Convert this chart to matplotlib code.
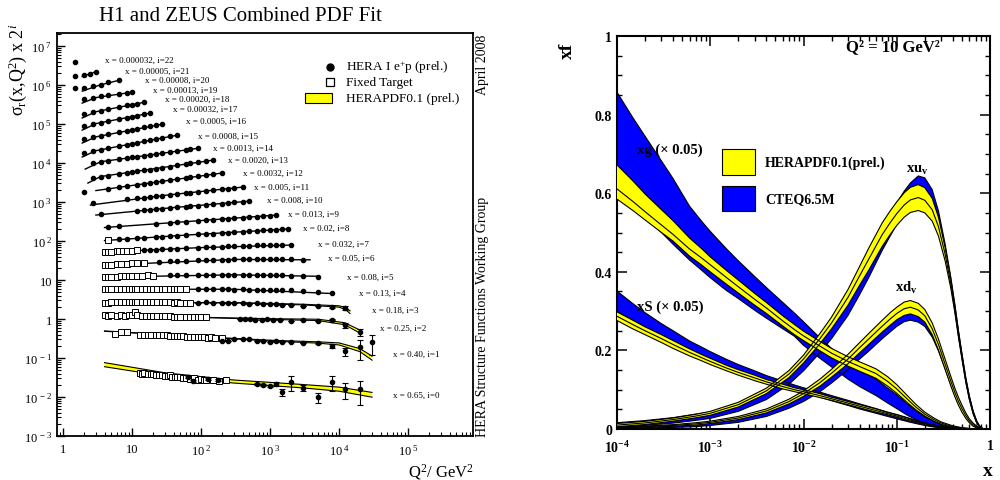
import numpy as np
import matplotlib
matplotlib.use("Agg")
import matplotlib.pyplot as plt
import matplotlib.patches as mpatches
from matplotlib.ticker import LogLocator, MultipleLocator, NullFormatter, FuncFormatter, FixedLocator

plt.rcParams["font.family"] = ["Liberation Serif", "DejaVu Serif"]
plt.rcParams["mathtext.fontset"] = "custom"
plt.rcParams["mathtext.rm"] = "Liberation Serif"
plt.rcParams["mathtext.it"] = "Liberation Serif:italic"
plt.rcParams["mathtext.bf"] = "Liberation Serif:bold"

YELLOW = "#ffff00"
BLUE = "#0000ff"

# ---------------- left panel: reduced cross sections x 2^i ----------------
BIN_X = {22: "0.000032", 21: "0.00005", 20: "0.00008", 19: "0.00013", 18: "0.00020",
         17: "0.00032", 16: "0.0005", 15: "0.0008", 14: "0.0013", 13: "0.0020",
         12: "0.0032", 11: "0.005", 10: "0.008", 9: "0.013", 8: "0.02", 7: "0.032",
         6: "0.05", 5: "0.08", 4: "0.13", 3: "0.18", 2: "0.25", 1: "0.40", 0: "0.65"}

HERA_Q2 = {
    22: [1.5],
    21: [1.5, 2.0, 2.5, 3.0],
    20: [1.5, 2.0, 2.7, 3.5, 4.5, 6.5],
    19: [2.0, 2.7, 3.5, 4.5, 6.5, 8.5, 10],
    18: [2.0, 2.7, 3.5, 4.5, 6.5, 8.5, 10, 12, 15],
    17: [2.0, 2.7, 3.5, 4.5, 6.5, 8.5, 10, 12, 15, 18],
    16: [2.0, 2.7, 3.5, 4.5, 6.5, 8.5, 10, 12, 15, 18, 22, 27],
    15: [2.0, 2.7, 3.5, 4.5, 6.5, 8.5, 10, 12, 15, 18, 22, 27, 35, 45],
    14: [2.7, 3.5, 4.5, 6.5, 8.5, 10, 12, 15, 18, 22, 27, 35, 45, 60, 70, 90],
    13: [2.7, 3.5, 4.5, 6.5, 8.5, 10, 12, 15, 18, 22, 27, 35, 45, 60, 70, 90, 120, 150],
    12: [2.0, 4.5, 6.5, 8.5, 12, 15, 18, 22, 27, 35, 45, 60, 70, 90, 120, 150, 200],
    11: [2.7, 8.5, 12, 15, 18, 22, 27, 35, 45, 60, 70, 90, 120, 150, 200, 250, 300, 400],
    10: [3.5, 12, 15, 18, 22, 27, 35, 45, 60, 70, 90, 120, 150, 200, 250, 300, 400, 500],
    9: [4.5, 6.5, 22, 35, 45, 60, 90, 120, 150, 200, 250, 300, 400, 500, 650, 800, 1000, 1200],
    8: [6.5, 8.5, 12, 15, 22, 27, 35, 45, 60, 90, 120, 150, 200, 250, 300, 400, 500, 650,
        800, 1000, 1200, 1500, 1800],
    7: [15, 18, 22, 27, 35, 45, 60, 90, 120, 150, 200, 250, 300, 400, 500, 650, 800, 1000,
        1200, 1500, 2000],
    6: [25, 35, 45, 60, 90, 120, 150, 200, 250, 300, 400, 500, 650, 800, 1000, 1200, 1500,
        2000, 3000],
    5: [35, 45, 60, 90, 120, 150, 200, 250, 300, 400, 500, 650, 800, 1000, 1200, 1500, 2000,
        3000, 5000],
    4: [90, 120, 150, 200, 250, 300, 400, 500, 650, 800, 1000, 1200, 1500, 2000, 3000, 5000, 8000],
    3: [90, 120, 150, 200, 250, 300, 400, 500, 650, 800, 1000, 1200, 1500, 2000, 3000, 5000,
        8000, 12000],
    2: [370, 430, 510, 600, 770, 900, 1100, 1400, 2000, 3000, 5000, 8000, 12000, 20000],
    1: [200, 250, 300, 400, 500, 650, 800, 1000, 1200, 1500, 2000, 3000, 5000, 8000, 12000,
        20000, 30000],
    0: [65, 76, 126, 177, 650, 800, 1000, 1200, 1500, 2000, 3000, 5000, 8000, 12000, 20000],
}
HERA_VAL = {
    22: [3.9e6],
    21: [1.70e6, 1.80e6, 1.97e6, 2.15e6],
    20: [8.4e5, 8.4e5, 9.4e5, 1.03e6, 1.19e6, 1.34e6],
    19: [4.38e5, 4.78e5, 5.22e5, 5.54e5, 6.06e5, 6.43e5, 6.62e5],
    18: [1.80e5, 2.01e5, 2.19e5, 2.40e5, 2.73e5, 3.0e5, 3.16e5, 3.37e5, 3.65e5],
    17: [8.9e4, 9.9e4, 1.08e5, 1.18e5, 1.34e5, 1.47e5, 1.55e5, 1.65e5, 1.78e5, 1.90e5],
    16: [4.12e4, 4.56e4, 4.98e4, 5.44e4, 6.17e4, 6.74e4, 7.14e4, 7.57e4, 8.18e4, 8.73e4,
         9.31e4, 1.0e5],
    15: [1.84e4, 2.03e4, 2.21e4, 2.41e4, 2.73e4, 2.99e4, 3.16e4, 3.36e4, 3.61e4, 3.85e4,
         4.11e4, 4.41e4, 4.81e4, 5.22e4],
    14: [1.0e4, 1.07e4, 1.14e4, 1.25e4, 1.34e4, 1.39e4, 1.46e4, 1.55e4, 1.62e4, 1.70e4,
         1.80e4, 1.92e4, 2.04e4, 2.19e4, 2.28e4, 2.42e4],
    13: [4120, 4430, 4720, 5190, 5570, 5850, 6120, 6500, 6810, 7180, 7570, 8130, 8670, 9370,
         9770, 1.04e4, 1.12e4, 1.19e4],
    12: [1800, 2210, 2410, 2570, 2790, 2940, 3090, 3240, 3400, 3620, 3840, 4120, 4300, 4560,
         4900, 5160, 5540],
    11: [943, 1170, 1250, 1300, 1350, 1400, 1460, 1530, 1600, 1690, 1740, 1830, 1930, 2010,
         2130, 2220, 2290, 2420],
    10: [495, 595, 616, 635, 654, 673, 702, 728, 762, 780, 809, 847, 879, 916, 948, 977,
         1020, 1060],
    9: [228, 240, 278, 293, 304, 314, 332, 344, 354, 367, 378, 386, 401, 412, 425, 438, 448, 459],
    8: [111, 115, 119, 122, 127, 130, 134, 137, 142, 148, 152, 156, 161, 165, 168, 173, 177,
        183, 187, 192, 195, 200, 203],
    7: [58.8, 59.5, 60.5, 61.6, 63, 64, 65.6, 67.6, 69.2, 70.5, 71.7, 73, 73.8, 75.1, 76,
        77.4, 78.3, 78.8, 79.2, 79.7, 78.8],
    6: [29.6, 30.2, 30.8, 31.3, 31.9, 32.4, 32.8, 33.2, 33.5, 33.8, 34.1, 34.4, 34.7, 35.0,
        35.2, 35.0, 35.3, 34.5, 33.0],
    5: [13.2, 13.3, 13.4, 13.5, 13.6, 13.6, 13.7, 13.6, 13.7, 13.7, 13.6, 13.6, 13.5, 13.5,
        13.4, 13.4, 13.0, 12.5, 11.8],
    4: [5.8, 5.8, 5.9, 5.8, 5.8, 5.7, 5.8, 5.7, 5.6, 5.6, 5.7, 5.5, 5.4, 5.4, 5.1, 4.9, 4.6],
    3: [2.65, 2.7, 2.6, 2.65, 2.6, 2.6, 2.55, 2.5, 2.55, 2.45, 2.45, 2.4, 2.35, 2.3, 2.2,
        2.15, 2.05, 1.9],
    2: [1.0, 1.0, 1.0, 0.97, 0.97, 1.0, 0.94, 0.94, 0.89, 0.97, 0.89, 0.97, 0.70, 0.46],
    1: [0.27, 0.28, 0.30, 0.31, 0.30, 0.28, 0.27, 0.26, 0.27, 0.26, 0.26, 0.245, 0.24, 0.205,
        0.15, 0.19, 0.26],
    0: [0.033, 0.026, 0.029, 0.027, 0.0216, 0.0204, 0.0192, 0.0216, 0.0134, 0.0243, 0.0171,
        0.0100, 0.0243, 0.0161, 0.0161],
}
HERA_ERR = {
    3: [0] * 16 + [0.08, 0.2],
    2: [0] * 11 + [0.04, 0.1, 0.1],
    1: [0] * 12 + [0.01, 0.02, 0.035, 0.1, 0.14],
    0: [0.002, 0.002, 0.002, 0.002, 0.0015, 0.0015, 0.0015, 0.002, 0.003, 0.01, 0.003, 0.003,
        0.01, 0.007, 0.01],
}

FT_Q2 = {
    8: [4.5],
    7: [4.0, 4.5, 5.0, 6.0, 6.5, 7.5, 8.5, 10, 12],
    6: [4.0, 4.5, 5.0, 6.0, 7.0, 8.5, 10, 12, 15],
    5: [4.0, 4.5, 5.0, 6.0, 7.0, 8.0, 9.0, 10, 12, 14, 17, 20],
    4: [4.0, 4.5, 5, 6, 7, 8, 9, 10, 11, 12, 14, 16, 18, 20, 23, 27, 30, 35, 40, 45, 50, 60],
    3: [4.0, 4.5, 5, 6, 7, 8, 9, 10, 11, 12, 14, 16, 18, 20, 23, 27, 30, 35, 40, 45, 50, 60, 70],
    2: [4.0, 4.5, 5, 6, 7, 8, 9, 10, 11, 12, 14, 16, 18, 20, 23, 27, 30, 35, 40, 45, 50, 60,
        70, 80, 90, 100, 120],
    1: [5.6, 7, 8.5, 13, 15, 17, 19, 22, 25, 28, 32, 36, 40, 45, 50, 55, 62, 70, 80, 90, 100,
        110, 125, 140, 160, 200],
    0: [13, 14, 15, 17, 19, 20, 22, 25, 27, 30, 33, 35, 38, 42, 45, 50, 55, 60, 70, 80, 90,
        100, 110, 120, 150, 180, 230],
}
FT_VAL = {
    8: [106],
    7: [52, 53, 52, 54, 55, 55, 56, 57, 58],
    6: [24.3, 24.3, 25.0, 25.7, 25.7, 26.5, 27.3, 27.3, 28.1],
    5: [12.0, 12.1, 12.0, 12.3, 12.5, 12.6, 12.4, 12.7, 12.8, 12.9, 13.1, 13.0],
    4: [5.8, 5.8, 5.9, 5.9, 5.9, 6.0, 5.9, 6.0, 6.0, 5.9, 6.0, 6.0, 5.9, 6.0, 5.9, 5.9, 5.9,
        5.9, 5.8, 5.9, 5.8, 5.8],
    3: [2.65, 2.6, 2.7, 2.7, 2.75, 2.7, 2.8, 2.75, 2.7, 2.8, 2.75, 2.8, 2.7, 2.75, 2.7, 2.75,
        2.7, 2.7, 2.65, 2.7, 2.65, 2.65, 2.6],
    2: [1.25, 1.22, 1.24, 1.2, 1.25, 1.22, 1.3, 1.28, 1.5, 1.25, 1.22, 1.22, 1.2, 1.22, 1.18,
        1.2, 1.17, 1.18, 1.15, 1.16, 1.14, 1.15, 1.12, 1.12, 1.1, 1.12, 1.1],
    1: [0.41, 0.46, 0.46, 0.40, 0.40, 0.40, 0.39, 0.39, 0.38, 0.38, 0.38, 0.37, 0.37, 0.36,
        0.36, 0.36, 0.35, 0.35, 0.35, 0.34, 0.34, 0.34, 0.33, 0.34, 0.33, 0.32],
    0: [0.042, 0.040, 0.041, 0.039, 0.038, 0.038, 0.037, 0.036, 0.037, 0.035, 0.034, 0.036,
        0.033, 0.033, 0.032, 0.033, 0.031, 0.030, 0.029, 0.030, 0.028, 0.029, 0.028, 0.027,
        0.027, 0.026, 0.028],
}

FIT_Q2 = {
    21: [1.9, 3.0], 20: [1.9, 3.4, 6.5], 19: [1.9, 3.0, 10.3], 18: [1.9, 3.0, 15.4],
    17: [1.9, 3.0, 19.5], 16: [1.9, 3.0, 28], 15: [1.9, 3.0, 46], 14: [2.1, 3.5, 95],
    13: [2.3, 3.5, 150], 12: [3.0, 20, 200], 11: [2.5, 30, 400], 10: [3.0, 40, 520],
    9: [4.0, 60, 1260], 8: [4.0, 60, 1800], 7: [4.0, 100, 2100], 6: [4.0, 300, 3800],
    5: [4.0, 300, 5000], 4: [4.0, 300, 8200],
    3: [4.0, 300, 3000, 10000, 12500, 14400],
    2: [4.0, 100, 1000, 5000, 12000, 20000],
    1: [4.0, 100, 1000, 5000, 10000, 20000, 30000],
    0: [4.0, 30, 300, 3000, 10000, 30000],
}
FIT_VAL = {
    21: [1.67e6, 2.2e6], 20: [7.0e5, 1.0e6, 1.33e6], 19: [3.45e5, 4.78e5, 6.62e5],
    18: [1.43e5, 2.08e5, 3.65e5], 17: [7.0e4, 1.03e5, 1.95e5], 16: [3.26e4, 4.7e4, 1.0e5],
    15: [1.43e4, 2.08e4, 5.22e4], 14: [7.0e3, 1.08e4, 2.42e4], 13: [3070, 4510, 1.19e4],
    12: [1970, 3160, 5540], 11: [838, 1490, 2420], 10: [464, 723, 1060], 9: [222, 314, 464],
    8: [103, 142, 203], 7: [52, 68, 79], 6: [24, 33.8, 33], 5: [11.9, 13.6, 12.5],
    4: [5.8, 5.8, 4.5],
    3: [2.65, 2.62, 2.35, 2.1, 1.85, 1.5],
    2: [1.25, 1.1, 1.0, 0.95, 0.76, 0.48],
    1: [0.49, 0.35, 0.28, 0.25, 0.23, 0.16, 0.10],
    0: [0.068, 0.038, 0.025, 0.019, 0.016, 0.0115],
}
FIT_BAND = {
    3: [0.01, 0.01, 0.02, 0.04, 0.06, 0.08],
    2: [0.01, 0.01, 0.02, 0.04, 0.06, 0.09],
    1: [0.01, 0.01, 0.02, 0.04, 0.06, 0.09, 0.12],
    0: [0.12, 0.10, 0.09, 0.10, 0.12, 0.14],
}

LABEL_Q2 = {22: 4.06, 21: 7.9, 20: 15.4, 19: 20.1, 18: 30, 17: 39, 16: 60.6, 15: 90.5,
            14: 149, 13: 246, 12: 406, 11: 586, 10: 905, 9: 1820, 8: 3000, 7: 4960,
            6: 6930, 5: 1.31e4, 4: 1.95e4, 3: 3.0e4, 2: 3.93e4, 1: 6.06e4, 0: 6.06e4}
LABEL_VAL = {22: 4.4e6, 21: 2.3e6, 20: 1.34e6, 19: 7.4e5, 18: 4.4e5, 17: 2.4e5, 16: 1.19e5,
             15: 4.9e4, 14: 2.5e4, 13: 1.23e4, 12: 5.5e3, 11: 2.4e3, 10: 1.12e3, 9: 492,
             8: 215, 7: 84, 6: 36.6, 5: 11.9, 4: 4.64, 3: 1.70, 2: 0.59, 1: 0.127, 0: 0.0113}

# ---------------- right panel: parton distributions at Q2 = 10 GeV2 ----------------
VAL_X = [1e-4, 2e-4, 4e-4, 7e-4, 1e-3, 2e-3, 4e-3, 7e-3, 1e-2, 1.5e-2, 2e-2, 3e-2, 4e-2,
         5e-2, 7e-2, 0.085, 0.1, 0.12, 0.14, 0.17, 0.2, 0.24, 0.28, 0.33, 0.38, 0.42, 0.46,
         0.5, 0.55, 0.6, 0.66, 0.72, 0.78, 0.85]
XUV_HERA_C = [0.010, 0.0155, 0.024, 0.033, 0.040, 0.062, 0.097, 0.140, 0.178, 0.230, 0.270,
              0.335, 0.390, 0.432, 0.495, 0.525, 0.548, 0.570, 0.583, 0.589, 0.582, 0.558,
              0.515, 0.445, 0.370, 0.305, 0.240, 0.185, 0.125, 0.080, 0.042, 0.018, 0.005, 0.0]
XUV_HERA_HI = [0.014, 0.0195, 0.028, 0.0375, 0.045, 0.068, 0.104, 0.149, 0.188, 0.243, 0.285,
               0.355, 0.414, 0.460, 0.525, 0.555, 0.578, 0.601, 0.615, 0.622, 0.614, 0.587,
               0.539, 0.462, 0.382, 0.314, 0.247, 0.191, 0.130, 0.084, 0.045, 0.020, 0.006, 0.0]
XUV_HERA_LO = [0.006, 0.0115, 0.020, 0.0285, 0.035, 0.056, 0.090, 0.131, 0.168, 0.217, 0.255,
               0.315, 0.366, 0.404, 0.465, 0.495, 0.518, 0.539, 0.551, 0.556, 0.550, 0.529,
               0.491, 0.428, 0.358, 0.296, 0.233, 0.179, 0.120, 0.076, 0.039, 0.016, 0.004, 0.0]
XUV_CTEQ_HI = [0.016, 0.0215, 0.029, 0.038, 0.043, 0.065, 0.099, 0.142, 0.178, 0.230, 0.270,
               0.337, 0.394, 0.439, 0.511, 0.547, 0.575, 0.605, 0.626, 0.644, 0.639, 0.609,
               0.555, 0.471, 0.386, 0.317, 0.249, 0.192, 0.130, 0.084, 0.045, 0.020, 0.006, 0.0]
XUV_CTEQ_LO = [0.004, 0.0095, 0.015, 0.022, 0.027, 0.045, 0.075, 0.114, 0.148, 0.194, 0.230,
               0.289, 0.342, 0.385, 0.455, 0.491, 0.521, 0.555, 0.580, 0.600, 0.597, 0.571,
               0.523, 0.447, 0.368, 0.301, 0.235, 0.180, 0.120, 0.076, 0.039, 0.016, 0.004, 0.0]

XDV_HERA_C = [0.004, 0.006, 0.009, 0.013, 0.017, 0.028, 0.046, 0.070, 0.090, 0.118, 0.142,
              0.178, 0.207, 0.229, 0.262, 0.280, 0.294, 0.306, 0.310, 0.303, 0.288, 0.255,
              0.215, 0.165, 0.122, 0.093, 0.070, 0.052, 0.034, 0.021, 0.011, 0.005, 0.0015, 0.0]
XDV_HERA_HI = [0.005, 0.0075, 0.011, 0.016, 0.020, 0.032, 0.051, 0.076, 0.097, 0.127, 0.152,
               0.190, 0.220, 0.243, 0.277, 0.296, 0.310, 0.323, 0.327, 0.320, 0.304, 0.270,
               0.229, 0.178, 0.134, 0.104, 0.080, 0.061, 0.041, 0.026, 0.015, 0.007, 0.0025, 0.0]
XDV_HERA_LO = [0.003, 0.0045, 0.007, 0.010, 0.014, 0.024, 0.041, 0.064, 0.083, 0.109, 0.132,
               0.166, 0.194, 0.215, 0.247, 0.264, 0.278, 0.289, 0.293, 0.286, 0.272, 0.240,
               0.201, 0.152, 0.110, 0.082, 0.060, 0.043, 0.027, 0.016, 0.007, 0.003, 0.0005, 0.0]
XDV_CTEQ_HI = [0.005, 0.007, 0.010, 0.014, 0.017, 0.027, 0.044, 0.067, 0.086, 0.113, 0.137,
               0.173, 0.202, 0.224, 0.256, 0.273, 0.287, 0.299, 0.303, 0.298, 0.285, 0.256,
               0.219, 0.171, 0.128, 0.099, 0.075, 0.057, 0.038, 0.024, 0.013, 0.006, 0.002, 0.0]
XDV_CTEQ_LO = [0.001, 0.002, 0.004, 0.006, 0.009, 0.017, 0.032, 0.053, 0.070, 0.095, 0.117,
               0.151, 0.178, 0.198, 0.230, 0.247, 0.261, 0.273, 0.277, 0.272, 0.261, 0.234,
               0.199, 0.153, 0.112, 0.085, 0.063, 0.047, 0.030, 0.018, 0.009, 0.004, 0.001, 0.0]

SEA_X = [1e-4, 1.5e-4, 2e-4, 3e-4, 4e-4, 6e-4, 8e-4, 1e-3, 1.5e-3, 2e-3, 3e-3, 4e-3, 6e-3,
         8e-3, 1e-2, 1.5e-2, 2e-2, 3e-2, 4e-2, 6e-2, 8e-2, 0.1, 0.13, 0.16, 0.2, 0.25, 0.3,
         0.4, 0.5, 0.6, 0.7]
XG_HERA_C = [0.611, 0.578, 0.553, 0.519, 0.495, 0.458, 0.436, 0.418, 0.385, 0.362, 0.330,
             0.308, 0.275, 0.253, 0.237, 0.211, 0.193, 0.172, 0.159, 0.141, 0.121, 0.102,
             0.076, 0.056, 0.038, 0.024, 0.015, 0.006, 0.0025, 0.001, 0.0]
XG_HERA_HI = [0.672, 0.63, 0.598, 0.558, 0.53, 0.486, 0.46, 0.438, 0.403, 0.379, 0.345,
              0.322, 0.288, 0.266, 0.249, 0.223, 0.205, 0.184, 0.171, 0.153, 0.133, 0.113,
              0.085, 0.063, 0.043, 0.028, 0.018, 0.008, 0.0035, 0.0015, 0.0]
XG_HERA_LO = [0.585, 0.555, 0.532, 0.5, 0.478, 0.44, 0.418, 0.400, 0.368, 0.346, 0.315,
              0.294, 0.262, 0.24, 0.225, 0.199, 0.181, 0.160, 0.147, 0.129, 0.109, 0.091,
              0.067, 0.049, 0.033, 0.020, 0.012, 0.004, 0.0015, 0.0005, 0.0]
XG_CTEQ_HI = [0.857, 0.79, 0.745, 0.682, 0.637, 0.567, 0.530, 0.503, 0.458, 0.428, 0.388,
              0.360, 0.322, 0.295, 0.273, 0.232, 0.205, 0.172, 0.152, 0.127, 0.104, 0.087,
              0.064, 0.047, 0.031, 0.019, 0.011, 0.0045, 0.0018, 0.0006, 0.0]
XG_CTEQ_LO = [0.60, 0.565, 0.54, 0.50, 0.47, 0.43, 0.405, 0.385, 0.352, 0.332, 0.302, 0.282,
              0.255, 0.236, 0.213, 0.18, 0.158, 0.127, 0.108, 0.085, 0.066, 0.052, 0.035,
              0.024, 0.013, 0.007, 0.004, 0.0015, 0.0005, 0.0002, 0.0]

XS_HERA_C = [0.287, 0.265, 0.25, 0.23, 0.215, 0.195, 0.182, 0.172, 0.155, 0.144, 0.13, 0.12,
             0.108, 0.1, 0.095, 0.085, 0.077, 0.066, 0.058, 0.047, 0.039, 0.033, 0.025, 0.019,
             0.013, 0.008, 0.005, 0.002, 0.0007, 0.0002, 0.0]
XS_HERA_HI = [0.298, 0.276, 0.260, 0.240, 0.225, 0.204, 0.190, 0.180, 0.162, 0.151, 0.137,
              0.126, 0.114, 0.105, 0.100, 0.090, 0.081, 0.070, 0.062, 0.051, 0.042, 0.036,
              0.028, 0.021, 0.015, 0.0095, 0.006, 0.0025, 0.001, 0.0003, 0.0]
XS_HERA_LO = [0.276, 0.254, 0.240, 0.220, 0.205, 0.186, 0.174, 0.164, 0.148, 0.137, 0.123,
              0.114, 0.102, 0.095, 0.090, 0.080, 0.073, 0.062, 0.054, 0.043, 0.036, 0.030,
              0.022, 0.017, 0.011, 0.0065, 0.004, 0.0015, 0.0004, 0.0001, 0.0]
XS_CTEQ_HI = [0.351, 0.318, 0.296, 0.268, 0.250, 0.224, 0.209, 0.197, 0.177, 0.164, 0.148,
              0.136, 0.122, 0.112, 0.105, 0.094, 0.085, 0.073, 0.064, 0.052, 0.043, 0.037,
              0.029, 0.022, 0.016, 0.010, 0.0065, 0.0028, 0.0011, 0.0004, 0.0]
XS_CTEQ_LO = [0.30, 0.275, 0.258, 0.236, 0.221, 0.199, 0.186, 0.176, 0.158, 0.146, 0.131,
              0.120, 0.107, 0.098, 0.092, 0.081, 0.072, 0.060, 0.051, 0.040, 0.032, 0.026,
              0.019, 0.014, 0.009, 0.005, 0.003, 0.001, 0.0003, 0.0001, 0.0]


def pow_label(v, pos):
    k = int(round(np.log10(v)))
    if k == 0:
        return "1"
    if k == 1:
        return "10"
    return r"10$^{\ %d}$" % k


def bold_pow_label(v, pos):
    k = int(round(np.log10(v)))
    if k == 0:
        return "1"
    return r"$\mathbf{10^{%d}}$" % k


def draw_left(ax):
    for i in BIN_X:
        if i in FIT_Q2:
            q = np.array(FIT_Q2[i], dtype=float)
            v = np.array(FIT_VAL[i], dtype=float)
            if i in FIT_BAND:
                w = np.array(FIT_BAND[i])
                ax.fill_between(q, v * (1 - w), v * (1 + w), facecolor=YELLOW,
                                edgecolor="none", zorder=2)
                ax.plot(q, v * (1 + w), color="k", lw=0.8, zorder=3)
                ax.plot(q, v * (1 - w), color="k", lw=0.8, zorder=3)
            else:
                ax.plot(q, v, color="k", lw=1.0, zorder=3)
        if i in FT_Q2:
            ax.plot(FT_Q2[i], FT_VAL[i], ls="none", marker="s", ms=4, mfc="white",
                    mec="k", mew=0.7, zorder=4)
        if i in HERA_ERR:
            ax.errorbar(HERA_Q2[i], HERA_VAL[i], yerr=HERA_ERR[i], fmt="o", ms=3,
                        color="k", elinewidth=0.8, capsize=2, capthick=0.8, zorder=5)
        else:
            ax.plot(HERA_Q2[i], HERA_VAL[i], ls="none", marker="o", ms=3, color="k", zorder=5)
        ax.text(LABEL_Q2[i], LABEL_VAL[i], f"x = {BIN_X[i]}, i={i}", fontsize=6.5,
                ha="left", va="center")

    ax.set_xscale("log")
    ax.set_yscale("log")
    ax.set_xlim(0.82, 8.7e5)
    ax.set_ylim(1e-3, 2.15e7)
    ax.xaxis.set_major_locator(FixedLocator([1, 10, 1e2, 1e3, 1e4, 1e5]))
    ax.xaxis.set_minor_locator(LogLocator(base=10, subs=np.arange(2, 10), numticks=100))
    ax.yaxis.set_major_locator(FixedLocator([10.0 ** k for k in range(-3, 8)]))
    ax.yaxis.set_minor_locator(LogLocator(base=10, subs=np.arange(2, 10), numticks=100))
    ax.xaxis.set_major_formatter(FuncFormatter(pow_label))
    ax.yaxis.set_major_formatter(FuncFormatter(pow_label))
    ax.xaxis.set_minor_formatter(NullFormatter())
    ax.yaxis.set_minor_formatter(NullFormatter())
    ax.tick_params(which="both", direction="in", top=False, right=False, labelsize=9)
    ax.tick_params(which="major", length=6, width=1)
    ax.tick_params(which="minor", length=3, width=0.8)
    ax.tick_params(axis="x", pad=5)
    for sp in ax.spines.values():
        sp.set_linewidth(1.3)

    # hand-placed legend like the original
    tr = ax.transAxes
    ax.plot([0.656], [0.916], "o", ms=5, color="k", transform=tr, clip_on=False)
    ax.plot([0.656], [0.878], "s", ms=5.5, mfc="white", mec="k", mew=0.9, transform=tr,
            clip_on=False)
    ax.add_patch(mpatches.Rectangle((0.596, 0.826), 0.065, 0.026, transform=tr,
                                    facecolor=YELLOW, edgecolor="k", lw=0.8))
    ax.text(0.695, 0.916, "HERA I e$^{+}$p (prel.)", transform=tr, fontsize=9.5, va="center")
    ax.text(0.695, 0.878, "Fixed Target", transform=tr, fontsize=9.5, va="center")
    ax.text(0.695, 0.840, "HERAPDF0.1 (prel.)", transform=tr, fontsize=9.5, va="center")


def band(ax, x, lo, hi, color, z):
    ax.fill_between(x, lo, hi, facecolor=color, edgecolor="none", zorder=z)
    ax.plot(x, lo, color="k", lw=0.8, zorder=z + 0.1)
    ax.plot(x, hi, color="k", lw=0.8, zorder=z + 0.1)


def draw_right(ax):
    band(ax, SEA_X, XG_CTEQ_LO, XG_CTEQ_HI, BLUE, 2)
    band(ax, SEA_X, XS_CTEQ_LO, XS_CTEQ_HI, BLUE, 2)
    band(ax, VAL_X, XUV_CTEQ_LO, XUV_CTEQ_HI, BLUE, 2)
    band(ax, VAL_X, XDV_CTEQ_LO, XDV_CTEQ_HI, BLUE, 2)
    band(ax, SEA_X, XG_HERA_LO, XG_HERA_HI, YELLOW, 3)
    band(ax, SEA_X, XS_HERA_LO, XS_HERA_HI, YELLOW, 3)
    band(ax, VAL_X, XUV_HERA_LO, XUV_HERA_HI, YELLOW, 3)
    band(ax, VAL_X, XDV_HERA_LO, XDV_HERA_HI, YELLOW, 3)
    for xs, c in [(SEA_X, XG_HERA_C), (SEA_X, XS_HERA_C), (VAL_X, XUV_HERA_C),
                  (VAL_X, XDV_HERA_C)]:
        ax.plot(xs, c, color="k", lw=0.8, zorder=3.2)

    ax.set_xscale("log")
    ax.set_xlim(1e-4, 1)
    ax.set_ylim(0, 1)
    ax.xaxis.set_major_locator(FixedLocator([1e-4, 1e-3, 1e-2, 1e-1, 1]))
    ax.xaxis.set_minor_locator(LogLocator(base=10, subs=np.arange(2, 10), numticks=100))
    ax.xaxis.set_major_formatter(FuncFormatter(bold_pow_label))
    ax.xaxis.set_minor_formatter(NullFormatter())
    ax.yaxis.set_major_locator(MultipleLocator(0.2))
    ax.yaxis.set_minor_locator(MultipleLocator(0.05))
    ax.yaxis.set_major_formatter(FuncFormatter(lambda v, p: "%g" % round(v, 1)))
    ax.tick_params(which="both", direction="in", top=True, right=True, labelsize=10)
    ax.tick_params(which="major", length=7, width=1.1)
    ax.tick_params(which="minor", length=3.5, width=1.0)
    ax.tick_params(axis="x", pad=7)
    for lab in ax.get_xticklabels() + ax.get_yticklabels():
        lab.set_fontweight("bold")
    for sp in ax.spines.values():
        sp.set_linewidth(1.5)

    tr = ax.transAxes
    ax.text(0.054, 0.712, "xg (× 0.05)", transform=tr, fontsize=10.5, fontweight="bold",
            va="center", zorder=6)
    ax.text(0.054, 0.313, "xS (× 0.05)", transform=tr, fontsize=10.5, fontweight="bold",
            va="center", zorder=6)
    ax.text(0.804, 0.66, r"xu$_\mathbf{v}$", transform=tr, fontsize=10.5, fontweight="bold",
            ha="center", va="center", zorder=6)
    ax.text(0.777, 0.361, r"xd$_\mathbf{v}$", transform=tr, fontsize=10.5, fontweight="bold",
            ha="center", va="center", zorder=6)
    ax.text(0.74, 0.975, "Q² = 10 GeV²", transform=tr, fontsize=12, fontweight="bold",
            ha="center", va="center", zorder=6)
    ax.add_patch(mpatches.Rectangle((0.2815, 0.646), 0.0885, 0.066, transform=tr,
                                    facecolor=YELLOW, edgecolor="k", lw=0.8, zorder=6))
    ax.add_patch(mpatches.Rectangle((0.2815, 0.555), 0.0885, 0.063, transform=tr,
                                    facecolor=BLUE, edgecolor="k", lw=0.8, zorder=6))
    ax.text(0.397, 0.679, "HERAPDF0.1(prel.)", transform=tr, fontsize=10, fontweight="bold",
            va="center", zorder=6)
    ax.text(0.397, 0.585, "CTEQ6.5M", transform=tr, fontsize=10, fontweight="bold",
            va="center", zorder=6)


def main():
    fig = plt.figure(figsize=(10, 4.81), dpi=100)
    ax1 = fig.add_axes([0.057, 0.0915, 0.416, 0.8375])
    ax2 = fig.add_axes([0.617, 0.106, 0.373, 0.817])
    draw_left(ax1)
    draw_right(ax2)

    fig.text(0.24, 0.966, "H1 and ZEUS Combined PDF Fit", fontsize=15, ha="center", va="center")
    fig.text(0.018, 0.854, r"σ$_\mathrm{r}$(x,Q$^2$) x 2$^i$", fontsize=13, rotation=90,
             ha="center", va="center")
    fig.text(0.474, 0.018, r"Q$^2$/ GeV$^2$", fontsize=12, ha="right", va="center")
    fig.text(0.476, 0.929, "April 2008", fontsize=10, rotation=90, ha="left", va="top")
    fig.text(0.476, 0.092, "HERA Structure Functions Working Group", fontsize=10,
             rotation=90, ha="left", va="bottom")
    fig.text(0.567, 0.894, "xf", fontsize=14, fontweight="bold", rotation=90,
             ha="center", va="center")
    fig.text(0.988, 0.019, "x", fontsize=14, fontweight="bold", ha="center", va="center")

    fig.savefig("out.png", dpi=100)


if __name__ == "__main__":
    main()
